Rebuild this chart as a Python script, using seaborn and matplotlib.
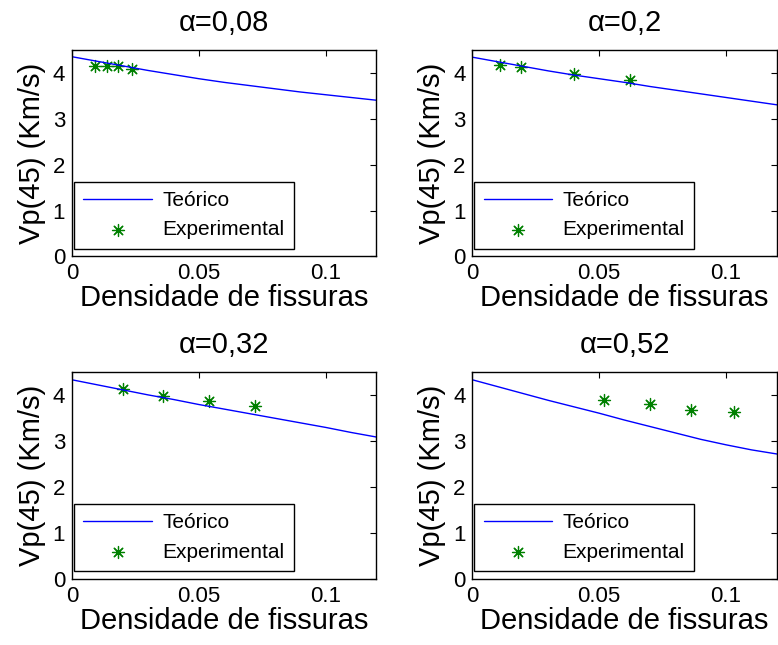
import numpy as np
import pandas as pd
import matplotlib
matplotlib.use("Agg")
import matplotlib.pyplot as plt
import seaborn as sns

# ── data ────────────────────────────────────────────────────────────────────
titles = ["α=0,08", "α=0,2", "α=0,32", "α=0,52"]

theo_x = [0.0, 0.01, 0.02, 0.03, 0.04, 0.05, 0.06, 0.07, 0.08, 0.09, 0.10, 0.11, 0.12]
theo_a008 = [4.36, 4.26, 4.16, 4.06, 3.97, 3.88, 3.80, 3.73, 3.66, 3.59, 3.53, 3.47, 3.41]
theo_a020 = [4.35, 4.25, 4.15, 4.05, 3.96, 3.88, 3.80, 3.71, 3.63, 3.55, 3.47, 3.39, 3.31]
theo_a032 = [4.34, 4.23, 4.12, 4.01, 3.91, 3.80, 3.70, 3.60, 3.50, 3.40, 3.30, 3.19, 3.09]
theo_a052 = [4.34, 4.19, 4.04, 3.89, 3.75, 3.61, 3.46, 3.32, 3.18, 3.04, 2.92, 2.81, 2.72]

exp_x_a008 = [0.009, 0.0137, 0.018, 0.0236]
exp_y_a008 = [4.16, 4.15, 4.15, 4.10]
exp_x_a020 = [0.011, 0.019, 0.040, 0.062]
exp_y_a020 = [4.17, 4.13, 3.99, 3.85]
exp_x_a032 = [0.020, 0.036, 0.054, 0.072]
exp_y_a032 = [4.13, 3.99, 3.87, 3.77]
exp_x_a052 = [0.052, 0.070, 0.086, 0.103]
exp_y_a052 = [3.90, 3.81, 3.68, 3.64]

theo = [theo_a008, theo_a020, theo_a032, theo_a052]
exp_x = [exp_x_a008, exp_x_a020, exp_x_a032, exp_x_a052]
exp_y = [exp_y_a008, exp_y_a020, exp_y_a032, exp_y_a052]

xticks = [0, 0.05, 0.1]
xticklabels = ["0", "0.05", "0.1"]
yticks = [0, 1, 2, 3, 4]

# ─────────────────────────────────────────────────────────────────────────────
sns.set_style("white", {"text.color": "black", "axes.labelcolor": "black",
                        "xtick.color": "black", "ytick.color": "black"})
plt.rcParams["font.family"] = ["Liberation Sans", "DejaVu Sans"]

fig, axes = plt.subplots(2, 2, figsize=(7.78, 6.45), dpi=100)
fig.subplots_adjust(left=0.0925, right=0.9985, bottom=0.103, top=0.922,
                    wspace=0.315, hspace=0.563)

for i, ax in enumerate(axes.flat):
    sns.lineplot(x=theo_x, y=theo[i], color=(0, 0, 1), lw=1,
                 label="Teórico", ax=ax)
    sns.scatterplot(x=exp_x[i], y=exp_y[i], marker=(8, 2, 0), s=75,
                    color=(0, 0.5, 0), linewidth=0.9, label="Experimental", ax=ax)
    ax.set_xlim(0, 0.12); ax.set_ylim(0, 4.5)
    ax.set_xticks(xticks); ax.set_xticklabels(xticklabels)
    ax.set_yticks(yticks)
    ax.tick_params(direction="in", top=True, right=True, length=4,
                   labelsize=16, color="black", labelcolor="black", pad=5)
    for s in ax.spines.values():
        s.set_color("black"); s.set_linewidth(1)
    ax.set_title(titles[i], fontsize=21, pad=14, color="black")
    ax.set_xlabel("Densidade de fissuras", fontsize=21, labelpad=0)
    ax.set_ylabel("Vp(45) (Km/s)", fontsize=21, labelpad=5)
    leg = ax.legend(loc="lower left", bbox_to_anchor=(0.006, 0.037),
                    borderaxespad=0, fontsize=15, fancybox=False,
                    edgecolor="black", framealpha=1, handlelength=3.3,
                    handletextpad=0.5, labelspacing=0.5, borderpad=0.45)
    leg.get_frame().set_linewidth(1)

fig.savefig("out.png", dpi=100)
plt.close(fig)
